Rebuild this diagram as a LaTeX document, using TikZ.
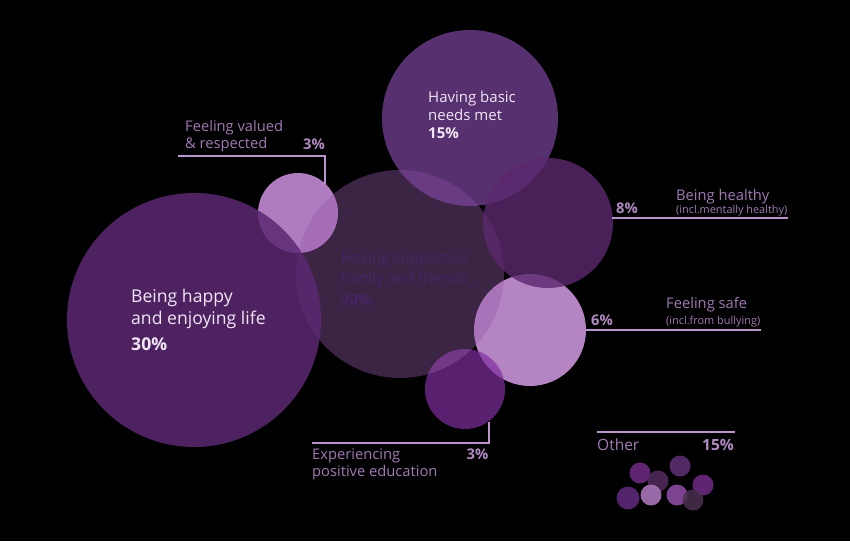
\documentclass[tikz,border=0pt]{standalone}
\usepackage{fontspec}
\setmainfont{Open Sans}
\definecolor{bgblack}{RGB}{0,0,0}
\definecolor{cbig}{RGB}{92,40,115}
\definecolor{cfam}{RGB}{152,90,170}
\definecolor{cval}{RGB}{176,124,192}
\definecolor{cbasic}{RGB}{124,69,159}
\definecolor{cheal}{RGB}{92,40,110}
\definecolor{csafe}{RGB}{181,133,195}
\definecolor{cedu}{RGB}{129,46,160}
\definecolor{lbl}{RGB}{160,122,178}
\definecolor{pct}{RGB}{178,138,194}
\definecolor{leader}{RGB}{186,148,204}
\definecolor{intext}{RGB}{240,230,246}
\definecolor{famtext}{RGB}{70,36,102}
\definecolor{o1}{RGB}{106,42,128}
\definecolor{o2}{RGB}{78,42,90}
\definecolor{o3}{RGB}{90,47,110}
\definecolor{o4}{RGB}{106,42,128}
\definecolor{o5}{RGB}{92,40,120}
\definecolor{o6}{RGB}{160,112,176}
\definecolor{o7}{RGB}{138,76,160}
\definecolor{o8}{RGB}{74,48,80}
\tikzset{
  lab/.style={anchor=base west, inner sep=0pt, text=lbl, font=\fontsize{14.7}{14.7}\selectfont},
  sublab/.style={anchor=base west, inner sep=0pt, text=lbl, font=\fontsize{10.9}{10.9}\selectfont},
  pc/.style={anchor=base west, inner sep=0pt, text=pct, font=\fontsize{14.7}{14.7}\selectfont\bfseries},
  othlab/.style={anchor=base west, inner sep=0pt, text=lbl, font=\fontsize{15.5}{15.5}\selectfont},
  othpc/.style={anchor=base west, inner sep=0pt, text=pct, font=\fontsize{15.5}{15.5}\selectfont\bfseries},
  inlab/.style={anchor=base west, inner sep=0pt, text=intext, font=\fontsize{15}{15}\selectfont},
  inpc/.style={anchor=base west, inner sep=0pt, text=intext, font=\fontsize{15}{15}\selectfont\bfseries},
  biglab/.style={anchor=base west, inner sep=0pt, text=intext, font=\fontsize{17.6}{17.6}\selectfont},
  bigpc/.style={anchor=base west, inner sep=0pt, text=intext, font=\fontsize{17.6}{17.6}\selectfont\bfseries},
  famlab/.style={anchor=base west, inner sep=0pt, text=famtext, font=\fontsize{15}{15}\selectfont},
  fampc/.style={anchor=base west, inner sep=0pt, text=famtext, font=\fontsize{15}{15}\selectfont\bfseries},
  leadline/.style={draw=leader, line width=1.3pt},
}
\begin{document}
\begin{tikzpicture}[x=1pt,y=-1pt]
\fill[bgblack] (0,0) rectangle (850,541);
\useasboundingbox (0,0) rectangle (850,541);
% circles
\fill[cval] (298,213) circle[radius=40];
\fill[csafe] (530,330) circle[radius=56];
\fill[cedu, fill opacity=0.7] (465,389) circle[radius=40];
\fill[cfam, fill opacity=0.4] (400,274) circle[radius=104];
\fill[cbig, fill opacity=0.85] (194,320) circle[radius=127];
\fill[cbasic, fill opacity=0.7] (470,118) circle[radius=88];
\fill[cheal, fill opacity=0.8] (548,223) circle[radius=65];
% other small circles
\fill[o1, fill opacity=0.9] (640,473) circle[radius=10.5];
\fill[o2, fill opacity=0.9] (658,481) circle[radius=10.5];
\fill[o3, fill opacity=0.9] (680,466) circle[radius=10.5];
\fill[o4, fill opacity=0.9] (703,485) circle[radius=10.5];
\fill[o5, fill opacity=0.9] (628,498) circle[radius=11.5];
\fill[o6, fill opacity=0.95] (651,495) circle[radius=10.5];
\fill[o7, fill opacity=0.9] (677,495) circle[radius=10.5];
\fill[o8, fill opacity=0.85] (693,500) circle[radius=10.5];
% coordinates for leader lines
\coordinate (valA) at (178,156);
\coordinate (valB) at (325,156);
\coordinate (valC) at (325,184);
\coordinate (healA) at (612,218);
\coordinate (healB) at (788,218);
\coordinate (safeA) at (586,330);
\coordinate (safeB) at (761,330);
\coordinate (eduA) at (312,443);
\coordinate (eduB) at (489,443);
\coordinate (eduC) at (489,422);
\coordinate (othA) at (597,432);
\coordinate (othB) at (735,432);
\draw[leadline] (valA) -- (valB) -- (valC);
\draw[leadline] (healA) -- (healB);
\draw[leadline] (safeA) -- (safeB);
\draw[leadline] (eduA) -- (eduB) -- (eduC);
\draw[leadline] (othA) -- (othB);
% labels
\node[lab] (val1) at (185,131) {Feeling valued};
\node[lab] (val2) at (185,148) {\& respected};
\node[pc] (valp) at (303,149) {3\%};
\node[inlab] (bas1) at (428,102) {Having basic};
\node[inlab] (bas2) at (428,120) {needs met};
\node[inpc] (basp) at (428,138.5) {15\%};
\node[biglab] (hap1) at (131,302) {Being happy};
\node[biglab] (hap2) at (131,324) {and enjoying life};
\node[bigpc] (happ) at (131,350) {30\%};
\node[famlab] (fam1) at (341,263) {Having supportive};
\node[famlab] (fam2) at (341,283) {family and friends};
\node[fampc] (famp) at (341,305) {20\%};
\node[lab] (hea1) at (676,200) {Being healthy};
\node[sublab] (hea2) at (676,213) {(incl.mentally healthy)};
\node[pc] (heap) at (616,213.5) {8\%};
\node[lab] (saf1) at (666,308.5) {Feeling safe};
\node[sublab] (saf2) at (666,324) {(incl.from bullying)};
\node[pc] (safp) at (591,325) {6\%};
\node[lab] (edu1) at (312,459) {Experiencing};
\node[lab] (edu2) at (312,476.5) {positive education};
\node[pc] (edup) at (466.5,459) {3\%};
\node[othlab] (oth1) at (597,450) {Other};
\node[othpc] (othp) at (702,450) {15\%};
\end{tikzpicture}
\end{document}
